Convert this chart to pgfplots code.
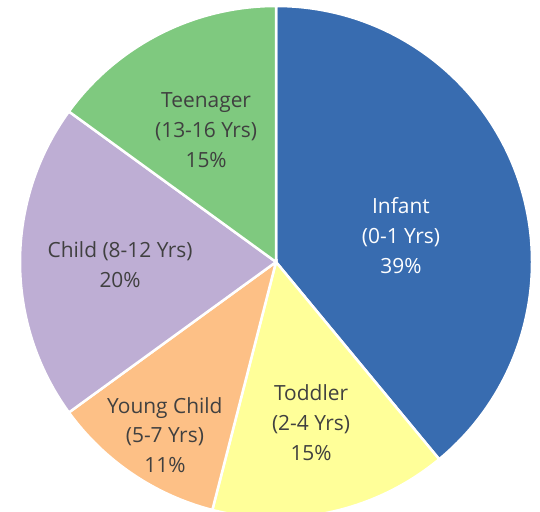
\documentclass[border=0pt]{standalone}
\usepackage{fontspec}
\setmainfont{Open Sans}
\usepackage{pgfplots}
\usepackage{pgfplotstable}
\pgfplotsset{compat=1.18}
\definecolor{cInfant}{HTML}{386CB0}
\definecolor{cToddler}{HTML}{FFFF99}
\definecolor{cYoung}{HTML}{FDC086}
\definecolor{cChild}{HTML}{BEAED4}
\definecolor{cTeen}{HTML}{7FC97F}
\definecolor{txt}{HTML}{404040}
\pgfplotstableread{
value
39
15
11
20
15
}\piedata
\begin{document}
\begin{tikzpicture}
\begin{axis}[hide axis, scale only axis, x=256bp, y=256bp,
  xmin=-1.078125, xmax=1.03125, ymin=-0.9765625, ymax=1.0234375,
  anchor=south west, at={(0,0)}, clip=true]
\addplot[draw=none] coordinates {(0,0)};
\pgfplotsextra{
  \begin{scope}
  \clip (axis cs:-1.078125,-0.9765625) rectangle (axis cs:1.03125,1.0234375);
  \gdef\cum{0}
  \foreach \i/\c in {0/cInfant,1/cToddler,2/cYoung,3/cChild,4/cTeen} {
    \pgfplotstablegetelem{\i}{value}\of\piedata
    \let\v\pgfplotsretval
    \pgfmathsetmacro\a{90-3.6*\cum}
    \pgfmathsetmacro\d{-3.6*\v}
    \fill[\c, draw=white, line width=2.5bp] (axis cs:0,0) -- ++(\a:256bp)
      arc[start angle=\a, delta angle=\d, radius=256bp] -- cycle;
    \pgfmathsetmacro\newcum{\cum+\v}
    \xdef\cum{\newcum}
  }
  \end{scope}
}
\begin{scope}[every node/.style={align=center, font=\fontsize{21}{30}\selectfont}]
\node[white] at (axis cs:0.488,0.102) {Infant\\(0-1 Yrs)\\39\%};
\node[txt] at (axis cs:0.137,-0.629) {Toddler\\(2-4 Yrs)\\15\%};
\node[txt] at (axis cs:-0.434,-0.676) {Young Child\\(5-7 Yrs)\\11\%};
\node[txt] at (axis cs:-0.609,-0.012) {Child (8-12 Yrs)\\20\%};
\node[txt] at (axis cs:-0.273,0.516) {Teenager\\(13-16 Yrs)\\15\%};
\end{scope}
\end{axis}
\end{tikzpicture}
\end{document}
